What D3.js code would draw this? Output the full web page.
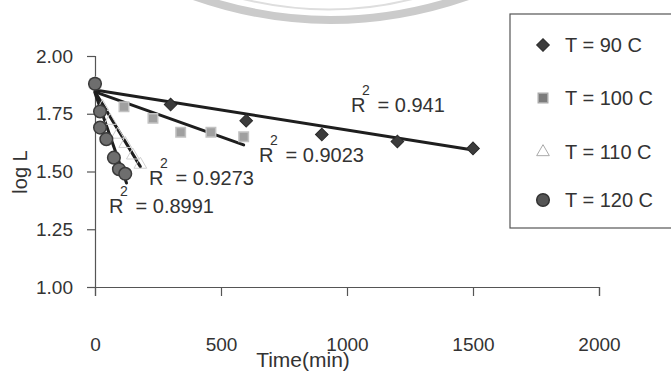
<!DOCTYPE html>
<html><head><meta charset="utf-8">
<script src="https://cdn.jsdelivr.net/npm/d3@7"></script>
<style>
body{margin:0;background:#fff;}
svg{display:block;font-family:"Liberation Sans",Arial,sans-serif;}
</style></head>
<body><svg id="c" width="671" height="373"></svg>
<script>
// ---- data ----
const seriesNames = ["T = 90 C", "T = 100 C", "T = 110 C", "T = 120 C"];
const times90  = [0, 300, 600, 900, 1200, 1500];
const logL90   = [1.88, 1.79, 1.72, 1.66, 1.63, 1.60];
const times100 = [0, 115, 230, 340, 460, 590];
const logL100  = [1.88, 1.78, 1.73, 1.67, 1.67, 1.65];
const times110 = [0, 30, 60, 90, 120, 150, 180];
const logL110  = [1.88, 1.78, 1.72, 1.66, 1.62, 1.57, 1.53];
const times120 = [0, 20, 20, 45, 75, 95, 120];
const logL120  = [1.88, 1.76, 1.69, 1.64, 1.56, 1.51, 1.49];
// trend lines: [t0, logL0, t1, logL1]
const trend90  = [0, 1.853, 1500, 1.593];
const trend100 = [0, 1.845, 590, 1.615];
const trend110 = [0, 1.845, 180, 1.521];
const trend120 = [0, 1.84, 125, 1.45];
const r2Labels = ["0.941", "0.9023", "0.9273", "0.8991"];
const xTicks = [0, 500, 1000, 1500, 2000];
const yTicks = [1.00, 1.25, 1.50, 1.75, 2.00];

const svg = d3.select("#c");
const x = d3.scaleLinear().domain([0, 2000]).range([95, 599]);
const y = d3.scaleLinear().domain([1, 2]).range([287, 56]);

// faint scanner watermark arc at the top
svg.append("path")
  .attr("d", "M188,-6 Q330,46 474,-6")
  .attr("fill", "none").attr("stroke", "#cbcbcb").attr("stroke-width", 8);
svg.append("path")
  .attr("d", "M235,-3 Q330,22 420,-3")
  .attr("fill", "none").attr("stroke", "#dedede").attr("stroke-width", 2);

// axes
const gx = svg.append("g").attr("transform", "translate(0,287)")
  .call(d3.axisBottom(x).tickValues(xTicks).tickSize(9).tickPadding(42).tickFormat(d3.format("d")));
const gy = svg.append("g").attr("transform", "translate(95,0)")
  .call(d3.axisLeft(y).tickValues(yTicks).tickSize(8).tickPadding(14).tickFormat(d3.format(".2f")));
[gx, gy].forEach(g => {
  g.selectAll("path,line").attr("stroke", "#555").attr("stroke-width", 1.2);
  g.selectAll("text").attr("fill", "#333").style("font-size", "19px")
    .style("font-family", '"Liberation Sans",Arial,sans-serif');
});

svg.append("text").attr("x", 303).attr("y", 367).attr("text-anchor", "middle")
  .attr("fill", "#333").style("font-size", "21px").text("Time(min)");
svg.append("text").attr("transform", "translate(27,172) rotate(-90)").attr("text-anchor", "middle")
  .attr("fill", "#333").style("font-size", "20px").text("log L");

// trend lines
const trends = [trend90, trend100, trend110, trend120];
trends.forEach(t => {
  svg.append("line")
    .attr("x1", x(t[0])).attr("y1", y(t[1])).attr("x2", x(t[2])).attr("y2", y(t[3]))
    .attr("stroke", "#1e1e1e").attr("stroke-width", 3).attr("stroke-linecap", "round");
});

// markers
const sym = {
  diamond: d3.symbol().type(d3.symbolSquare).size(80),
  square: d3.symbol().type(d3.symbolSquare).size(90),
  triangle: d3.symbol().type(d3.symbolTriangle).size(70),
  circle: d3.symbol().type(d3.symbolCircle).size(125)
};
const rot = { diamond: 45, square: 0, triangle: 0, circle: 0 };
function draw(times, vals, kind, fill, stroke, sw) {
  svg.append("g").selectAll("path").data(times.map((t, i) => [t, vals[i]])).join("path")
    .attr("transform", d => `translate(${x(d[0])},${y(d[1])}) rotate(${rot[kind]})`)
    .attr("d", sym[kind]).attr("fill", fill).attr("stroke", stroke).attr("stroke-width", sw);
}
draw(times110, logL110, "triangle", "none", "#d0d0d0", 1);
draw(times100, logL100, "square", "#a0a0a0", "#c2c2c2", 1.5);
draw(times90, logL90, "diamond", "#3c3c3c", "#2a2a2a", 1);
draw(times120, logL120, "circle", "#6e6e6e", "#3a3a3a", 1.5);

// R^2 labels
const r2Pos = [[351, 112], [259, 162], [149, 185], [109, 213]];
r2Labels.forEach((v, i) => {
  const [lx, ly] = r2Pos[i];
  const t = svg.append("text").attr("x", lx).attr("y", ly).attr("fill", "#333").style("font-size", "20px");
  t.append("tspan").text("R");
  t.append("tspan").attr("x", lx + 11).attr("dy", -17).style("font-size", "14px").text("2");
  t.append("tspan").attr("x", lx + 21).attr("dy", 17).text(" = " + v);
});

// legend
svg.append("rect").attr("x", 510).attr("y", 14).attr("width", 180).attr("height", 214)
  .attr("fill", "#fff").attr("stroke", "#555").attr("stroke-width", 1.2);
const legY = [45, 98, 152, 200];
const legKinds = [["diamond", "#3c3c3c", "#2a2a2a", 1], ["square", "#7c7c7c", "#aaa", 1.5],
  ["triangle", "#fff", "#aaa", 1], ["circle", "#555", "#333", 1.5]];
seriesNames.forEach((n, i) => {
  const k = legKinds[i];
  svg.append("path").attr("transform", `translate(543,${legY[i]}) rotate(${rot[k[0]]})`)
    .attr("d", sym[k[0]]).attr("fill", k[1]).attr("stroke", k[2]).attr("stroke-width", k[3]);
  svg.append("text").attr("x", 565).attr("y", legY[i] + 7).attr("fill", "#333")
    .style("font-size", "20px").text(n);
});
</script></body></html>
